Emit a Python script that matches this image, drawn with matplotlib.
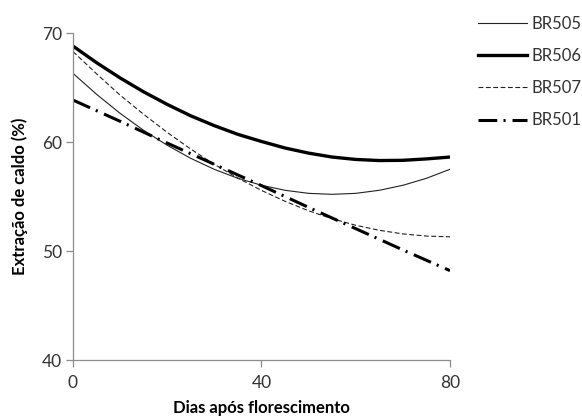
import matplotlib
matplotlib.use('Agg')
import matplotlib.pyplot as plt

# dias apos florescimento
dias = [0, 5, 10, 15, 20, 25, 30, 35, 40, 45, 50, 55, 60, 65, 70, 75, 80]
br505 = [66.3, 64.38, 62.63, 61.07, 59.7, 58.5, 57.49, 56.67, 56.03, 55.57,
         55.29, 55.2, 55.29, 55.57, 56.03, 56.67, 57.5]
br506 = [68.8, 67.28, 65.88, 64.6, 63.45, 62.4, 61.5, 60.7, 60.05, 59.45,
         58.98, 58.62, 58.4, 58.3, 58.32, 58.45, 58.62]
br507 = [68.3, 66.26, 64.3, 62.54, 60.88, 59.35, 57.95, 56.69, 55.56, 54.56,
         53.69, 52.96, 52.36, 51.9, 51.57, 51.37, 51.3]
dias_501 = [0, 10, 20, 30, 40, 50, 60, 70, 80]
br501 = [63.85, 61.9, 59.9, 57.95, 56.0, 54.0, 52.05, 50.1, 48.2]

xticks = [0, 40, 80]
yticks = [40, 50, 60, 70]

plt.rcParams['font.family'] = ['Lato', 'DejaVu Sans']
plt.rcParams['lines.scale_dashes'] = False

fig = plt.figure(figsize=(5.82, 4.19), dpi=100)
ax = fig.add_axes([0.1254, 0.1408, 0.6478, 0.7804])

l1, = ax.plot(dias, br505, color='#222222', lw=0.8, label='BR505')
l2, = ax.plot(dias, br506, color='black', lw=2.4, label='BR506')
l3, = ax.plot(dias, br507, color='#222222', lw=0.8, linestyle=(0, (3.5, 1.8)), label='BR507')
l4, = ax.plot(dias_501, br501, color='black', lw=2.2,
              linestyle=(0, (13.5, 4.5, 1.5, 5.0)), label='BR501')

ax.set_xlim(0, 80)
ax.set_ylim(40, 70)
ax.set_xticks(xticks)
ax.set_yticks(yticks)

for s in ['top', 'right']:
    ax.spines[s].set_visible(False)
for s in ['left', 'bottom']:
    ax.spines[s].set_color('#8c8c8c')
    ax.spines[s].set_linewidth(0.9)

ax.tick_params(axis='both', colors='#8c8c8c', length=5, width=0.9,
               labelcolor='#333333', labelsize=12.5)
ax.tick_params(axis='x', pad=6)
ax.tick_params(axis='y', pad=3)

ax.set_xlabel('Dias após florescimento', fontsize=12, fontweight='bold', labelpad=6)
ax.set_ylabel('Extração de caldo (%)', fontsize=12, fontweight='bold', labelpad=10)

fig.legend(handles=[l1, l2, l3, l4], loc='upper left', bbox_to_anchor=(0.7955, 0.998),
           frameon=False, fontsize=12, handlelength=2.95, handletextpad=0.25,
           labelspacing=0.97, labelcolor='#333333')

fig.savefig('out.png', dpi=100)
